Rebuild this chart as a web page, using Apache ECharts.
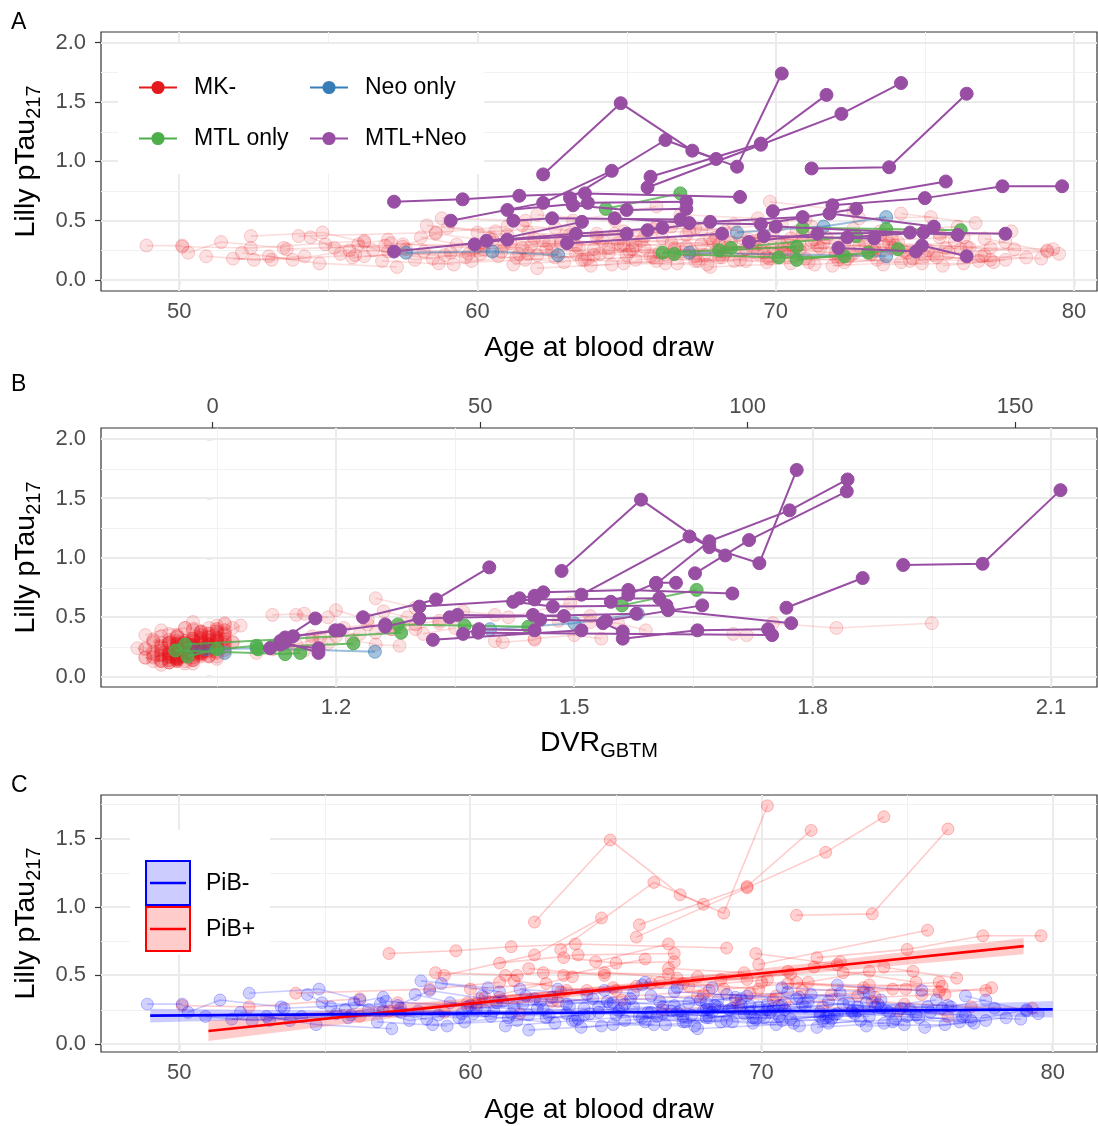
<!DOCTYPE html>
<html>
<head>
<meta charset="utf-8">
<script src="https://cdn.jsdelivr.net/npm/echarts/dist/echarts.min.js"></script>
<style>
  html, body { margin: 0; padding: 0; background: #fff; }
  #chart { width: 1098px; height: 1126px; }
</style>
</head>
<body>
<div id="chart"></div>
<script>
// ---- Axis ticks ----
const ageMajor = [50, 60, 70, 80];
const ageMinor = [55, 65, 75];
const ptauMajor = [0, 0.5, 1, 1.5, 2];
const ptauMinor = [0.25, 0.75, 1.25, 1.75];
const ptauMajorC = [0, 0.5, 1, 1.5];
const dvrMajor = [1.2, 1.5, 1.8, 2.1];
const dvrMinor = [1.05, 1.35, 1.65, 1.95];
const centiloidMajor = [0, 50, 100, 150];

// ---- Participants: each visit is [age at blood draw, Lilly pTau217, DVR (GBTM)] ----
// MK- participants, amyloid (PiB) negative
const mkNegPibNeg = [
  [[48.9,0.29,0.97],[50.1,0.29,0.99]],
  [[50.3,0.23,1.01],[51.4,0.32,1.02],[53.5,0.27,1.00]],
  [[50.9,0.20,0.98],[52.5,0.17,1.00],[54.2,0.20,1.03]],
  [[51.8,0.18,1.02],[53.1,0.17,1.04],[55.9,0.21,1.03]],
  [[52.1,0.23,0.96],[53.8,0.17,0.99],[55.7,0.25,1.00]],
  [[52.4,0.37,1.03],[54.8,0.40,1.05],[56.2,0.32,1.06]],
  [[53.0,0.20,1.01],[54.7,0.14,1.00],[57.3,0.11,1.02]],
  [[54.4,0.36,0.99],[55.2,0.27,1.01],[57.0,0.34,1.04]],
  [[55.4,0.22,0.98],[56.5,0.25,1.00],[58.5,0.18,1.01]],
  [[56.0,0.30,1.04],[57.9,0.17,1.05],[59.7,0.22,1.06]],
  [[57.5,0.28,1.00],[58.6,0.39,1.02],[61.1,0.31,1.03]],
  [[58.1,0.36,1.05],[60.2,0.26,1.04],[61.8,0.29,1.07]],
  [[58.3,0.46,1.02],[60.6,0.41,1.04]],
  [[58.9,0.21,0.97],[61.3,0.19,0.99],[62.9,0.15,1.00]],
  [[59.3,0.30,1.02],[61.5,0.27,1.01],[64.2,0.33,1.04]],
  [[59.8,0.16,0.99],[62.0,0.21,1.01],[63.7,0.18,1.03]],
  [[60.4,0.35,1.03],[62.4,0.31,1.05],[64.8,0.29,1.06]],
  [[60.8,0.24,0.96],[63.3,0.22,0.98],[65.2,0.26,1.00]],
  [[61.2,0.13,1.00],[63.6,0.17,1.01],[66.3,0.14,1.02]],
  [[61.7,0.40,1.05],[64.0,0.36,1.06],[65.9,0.43,1.08]],
  [[62.3,0.26,1.01],[64.4,0.23,1.00],[66.6,0.27,1.02]],
  [[62.6,0.19,0.98],[65.1,0.24,1.00],[67.3,0.20,1.01]],
  [[63.3,0.29,1.03],[65.5,0.33,1.04],[68.1,0.30,1.05]],
  [[63.8,0.12,0.99],[66.0,0.16,1.00],[68.2,0.19,1.02]],
  [[64.1,0.22,1.02],[66.4,0.20,1.03],[68.9,0.25,1.04]],
  [[64.7,0.31,0.97],[67.0,0.28,0.99],[69.1,0.34,1.00]],
  [[65.3,0.17,1.01],[67.6,0.21,1.03],[69.8,0.18,1.04]],
  [[65.6,0.27,1.04],[68.0,0.24,1.05],[70.2,0.29,1.07]],
  [[66.2,0.35,1.00],[68.5,0.32,1.02],[70.9,0.38,1.03]],
  [[66.7,0.14,0.98],[68.8,0.17,0.99],[71.1,0.15,1.00]],
  [[67.2,0.24,1.02],[69.4,0.22,1.03],[71.5,0.27,1.05]],
  [[67.5,0.30,1.05],[69.9,0.27,1.06],[72.3,0.31,1.06]],
  [[68.1,0.19,0.99],[70.3,0.23,1.00],[72.5,0.21,1.02]],
  [[68.4,0.28,1.01],[70.8,0.25,1.02],[73.0,0.30,1.04]],
  [[69.0,0.16,0.96],[71.3,0.13,0.98],[73.4,0.17,0.99]],
  [[69.3,0.33,1.03],[71.7,0.36,1.04],[74.1,0.32,1.05]],
  [[70.0,0.21,1.00],[72.2,0.19,1.02],[74.4,0.23,1.03]],
  [[70.4,0.26,1.04],[72.8,0.29,1.05],[75.1,0.25,1.06]],
  [[71.0,0.18,0.98],[73.2,0.22,1.00],[75.4,0.19,1.01]],
  [[71.6,0.31,1.02],[73.9,0.27,1.03],[76.0,0.32,1.05]],
  [[72.3,0.15,1.00],[74.6,0.18,1.01],[76.8,0.16,1.02]],
  [[73.1,0.24,1.03],[75.3,0.21,1.04],[77.3,0.15,1.05]],
  [[74.0,0.29,0.99],[76.2,0.26,1.01],[77.7,0.32,1.02]],
  [[75.0,0.20,1.01],[77.2,0.17,1.03],[79.1,0.25,1.04]],
  [[76.5,0.27,1.02],[79.1,0.24,1.03]],
  [[59.0,0.44,1.06],[61.0,0.38,1.05]],
  [[57.0,0.24,0.95],[59.6,0.19,0.97]],
  [[63.0,0.40,1.02],[65.6,0.37,1.03]],
  [[66.0,0.45,1.06],[68.3,0.41,1.07]],
  [[70.7,0.41,1.01],[73.5,0.38,1.03]],
  [[75.6,0.12,0.99],[77.7,0.17,1.00]],
  [[62.0,0.10,0.98],[64.5,0.13,1.00]],
  [[67.8,0.11,1.01],[70.5,0.14,1.02]],
  [[72.6,0.43,1.05],[75.5,0.39,1.06]],
  [[77.0,0.35,1.03],[79.5,0.22,1.04]],
  [[54.9,0.30,0.97],[57.6,0.26,0.98],[60.1,0.22,1.00]],
  [[61.9,0.35,0.96],[64.6,0.39,0.98],[67.1,0.41,1.01]],
  [[65.0,0.21,0.99],[67.4,0.16,1.00],[69.6,0.23,1.01]],
  [[69.6,0.28,1.00],[72.0,0.23,1.01],[74.8,0.26,1.02]],
  [[73.6,0.13,0.97],[76.3,0.14,0.99],[78.4,0.19,1.00]],
  [[55.8,0.19,1.00],[58.2,0.24,1.02],[60.7,0.20,1.03]],
  [[57.1,0.31,1.03],[59.9,0.27,1.04],[62.5,0.25,1.05]],
  [[58.7,0.14,0.99],[61.6,0.17,1.00],[63.9,0.21,1.02]],
  [[60.0,0.28,0.98],[62.2,0.33,1.00],[64.9,0.30,1.01]],
  [[61.4,0.22,1.04],[63.9,0.26,1.05],[66.1,0.23,1.06]],
  [[62.8,0.34,1.00],[65.3,0.29,1.02],[67.9,0.32,1.03]],
  [[63.5,0.17,0.97],[65.8,0.20,0.99],[68.6,0.16,1.00]],
  [[64.4,0.27,1.01],[66.9,0.24,1.02],[69.3,0.28,1.04]],
  [[65.9,0.19,1.03],[68.3,0.23,1.04],[70.6,0.20,1.05]],
  [[66.5,0.31,0.99],[69.0,0.26,1.00],[71.4,0.29,1.01]],
  [[67.3,0.16,1.02],[69.7,0.19,1.03],[72.1,0.17,1.04]],
  [[68.2,0.25,0.98],[70.6,0.28,0.99],[73.3,0.24,1.01]],
  [[68.8,0.36,1.04],[71.2,0.33,1.05],[73.7,0.37,1.06]],
  [[69.7,0.15,1.00],[72.4,0.18,1.01],[74.9,0.14,1.02]],
  [[70.2,0.25,1.02],[72.6,0.22,1.03],[75.7,0.27,1.04]],
  [[71.3,0.34,0.98],[73.6,0.30,1.00],[76.4,0.28,1.01]],
  [[72.0,0.20,1.03],[74.3,0.24,1.04],[77.0,0.21,1.05]],
  [[73.3,0.27,1.00],[75.8,0.23,1.01],[78.0,0.26,1.02]],
  [[74.5,0.16,0.97],[76.9,0.20,0.99],[78.9,0.18,1.00]],
  [[60.9,0.30,1.01],[63.4,0.27,1.02]],
  [[64.9,0.14,1.00],[67.7,0.13,1.01]],
  [[67.0,0.38,1.05],[69.5,0.35,1.06]],
  [[71.9,0.12,0.99],[74.2,0.15,1.00]],
  [[56.8,0.16,0.96],[59.2,0.13,0.98]],
  [[53.6,0.26,1.02],[56.9,0.29,1.03]]
];

// MK- participants, amyloid (PiB) positive
const mkNegPibPos = [
  [[50.1,0.28,1.13],[52.4,0.27,1.15],[56.2,0.33,1.18]],
  [[54.0,0.37,1.25],[58.6,0.40,1.30],[61.0,0.45,1.33]],
  [[57.5,0.30,1.40],[60.2,0.29,1.41],[62.8,0.31,1.45]],
  [[61.5,0.46,1.52],[64.0,0.39,1.59],[66.5,0.45,1.555]],
  [[63.2,0.50,1.417],[66.0,0.62,1.495]],
  [[65.2,0.32,1.45],[67.8,0.35,1.50],[70.4,0.32,1.534]],
  [[68.0,0.36,1.70],[70.5,0.35,1.717]],
  [[69.8,0.66,1.25],[72.6,0.58,1.30]],
  [[71.2,0.45,1.75],[73.5,0.41,1.83],[76.1,0.45,1.95]],
  [[72.8,0.52,1.12],[75.2,0.53,1.16]],
  [[74.2,0.56,1.20],[76.7,0.48,1.24]],
  [[56.2,0.20,1.10],[59.1,0.23,1.12],[61.7,0.22,1.16]],
  [[66.6,0.25,1.14],[69.2,0.28,1.19]],
  [[73.8,0.31,1.22],[77.2,0.27,1.25],[79.3,0.26,1.28]],
  [[60.5,0.34,1.17],[63.1,0.38,1.20]],
  [[67.5,0.42,1.28],[70.2,0.47,1.33]],
  [[62.0,0.55,1.26],[64.6,0.50,1.29]],
  [[75.5,0.36,1.31],[77.9,0.41,1.35]],
  [[58.8,0.52,1.15],[61.6,0.50,1.19]],
  [[64.9,0.41,1.21],[67.3,0.44,1.24],[69.9,0.40,1.27]],
  [[66.8,0.55,1.36],[69.4,0.52,1.40]],
  [[70.8,0.30,1.17],[73.9,0.34,1.20],[76.3,0.36,1.23]],
  [[68.6,0.47,1.48],[71.0,0.51,1.52]],
  [[60.0,0.40,1.27],[62.6,0.44,1.30]]
];

// MTL only
const mtlOnlyPibNeg = [
  [[66.2,0.23,1.102],[68.1,0.25,1.119],[70.7,0.28,1.222]],
  [[66.6,0.22,0.998],[70.1,0.19,1.136],[72.3,0.20,1.155]],
  [[70.7,0.17,1.013],[73.1,0.23,1.05],[74.1,0.26,1.10]],
  [[68.5,0.27,1.01],[72.7,0.37,1.282]]
];
const mtlOnlyPibPos = [
  [[64.3,0.60,1.56],[66.8,0.73,1.654]],
  [[70.9,0.44,1.278],[73.7,0.43,1.362],[76.2,0.42,1.442]]
];

// Neo only
const neoOnlyPibNeg = [
  [[57.6,0.23,1.036],[60.5,0.24,1.10],[62.7,0.21,1.249]],
  [[67.1,0.23,1.02],[73.7,0.20,1.06]]
];
const neoOnlyPibPos = [
  [[68.7,0.40,1.394],[71.6,0.45,1.50],[73.7,0.53,1.58]]
];

// MTL + Neo (all amyloid positive)
const mtlNeo = [
  [[57.2,0.66,1.431],[59.5,0.68,1.45],[61.4,0.71,1.461],[63.6,0.73,1.568],[68.8,0.70,1.699]],
  [[62.2,0.89,1.484],[64.8,1.49,1.584],[67.2,1.09,1.67],[68.7,0.955,1.733],[70.2,1.74,1.78]],
  [[63.1,0.69,1.509],[66.3,1.18,1.645],[68.0,1.02,1.69]],
  [[65.7,0.78,1.603],[69.5,1.14,1.67],[72.2,1.40,1.771],[74.2,1.66,1.844]],
  [[59.1,0.50,1.234],[62.2,0.65,1.326],[64.5,0.92,1.393]],
  [[65.8,0.87,1.652],[69.5,1.15,1.72],[71.7,1.56,1.843]],
  [[71.2,0.94,1.914],[73.8,0.95,2.014],[76.4,1.57,2.112]],
  [[69.9,0.58,1.767],[75.7,0.83,1.863]],
  [[71.9,0.63,1.546],[75.0,0.69,1.568],[77.6,0.79,1.603],[79.6,0.79,1.628]],
  [[57.2,0.24,1.117],[61.0,0.34,1.146],[65.0,0.39,1.199]],
  [[59.9,0.30,1.13],[63.5,0.49,1.174]],
  [[60.3,0.33,1.136],[63.3,0.39,1.205],[66.2,0.44,1.262]],
  [[61.0,0.59,1.305],[63.7,0.65,1.45],[67.0,0.66,1.607]],
  [[61.2,0.50,1.343],[62.5,0.52,1.353],[66.8,0.51,1.487]],
  [[63.2,0.63,1.423],[65.0,0.59,1.473],[67.0,0.60,1.616]],
  [[64.6,0.52,1.448],[67.1,0.48,1.457],[69.5,0.47,1.54],[72.7,0.60,1.661]],
  [[65.7,0.42,1.262],[67.8,0.49,1.305],[70.9,0.53,1.578]],
  [[63.0,0.31,1.322],[68.2,0.39,1.509]],
  [[69.1,0.32,1.561],[71.4,0.39,1.655],[74.5,0.40,1.744]],
  [[69.6,0.37,1.379],[73.3,0.35,1.749]],
  [[71.8,0.56,1.618],[75.3,0.45,1.773]],
  [[72.1,0.27,1.13],[74.7,0.24,1.178]],
  [[74.9,0.29,1.136],[76.4,0.20,1.178]],
  [[72.4,0.36,1.36],[74.95,0.40,1.38],[77.7,0.39,1.45]],
  [[70.0,0.45,1.536],[76.1,0.38,1.561]]
];

// ---- Linear fits by amyloid status (estimate with 95% band) ----
const fitAgePos = [51.0, 58.0, 65.0, 72.0, 79.0];
const fitEstPos = [0.094, 0.250, 0.405, 0.560, 0.714];
const fitLoPos  = [0.020, 0.205, 0.378, 0.522, 0.655];
const fitHiPos  = [0.168, 0.295, 0.432, 0.598, 0.773];
const fitAgeNeg = [49.0, 56.5, 64.5, 72.0, 80.0];
const fitEstNeg = [0.206, 0.217, 0.229, 0.240, 0.252];
const fitLoNeg  = [0.155, 0.195, 0.217, 0.222, 0.192];
const fitHiNeg  = [0.257, 0.239, 0.241, 0.258, 0.312];

// ---- Drawing ----
const FONT = '"Liberation Sans", Arial, Helvetica, sans-serif';
const TICK_COLOR = '#4D4D4D';
const chart = echarts.init(document.getElementById('chart'), null, { renderer: 'canvas' });

const groupStyle = {
  'MK-':      { fill: 'rgba(228,26,28,0.13)', stroke: 'rgba(228,26,28,0.2)', line: 'rgba(228,26,28,0.15)', lw: 1.6, z: 3, solid: '#E41A1C' },
  'Neo only': { fill: 'rgba(55,126,184,0.45)', stroke: 'rgba(55,126,184,0.6)', line: 'rgba(55,126,184,0.5)', lw: 2, z: 4, solid: '#377EB8' },
  'MTL only': { fill: 'rgba(77,175,74,0.8)', stroke: 'rgba(77,175,74,0.9)', line: 'rgba(77,175,74,0.8)', lw: 2, z: 5, solid: '#4DAF4A' },
  'MTL+Neo':  { fill: '#984EA3', stroke: '#984EA3', line: '#984EA3', lw: 2, z: 6, solid: '#984EA3' }
};
const pibStyle = {
  'PiB+': { fill: 'rgba(255,0,0,0.18)', stroke: 'rgba(255,0,0,0.25)', line: 'rgba(255,0,0,0.2)', lw: 1.6, z: 3 },
  'PiB-': { fill: 'rgba(0,0,255,0.18)', stroke: 'rgba(0,0,255,0.25)', line: 'rgba(0,0,255,0.2)', lw: 1.6, z: 4 }
};

const groups = [
  ['MK-', mkNegPibNeg.concat(mkNegPibPos)],
  ['Neo only', neoOnlyPibNeg.concat(neoOnlyPibPos)],
  ['MTL only', mtlOnlyPibNeg.concat(mtlOnlyPibPos)],
  ['MTL+Neo', mtlNeo]
];
const pibGroups = [
  ['PiB+', mkNegPibPos.concat(mtlOnlyPibPos, neoOnlyPibPos, mtlNeo)],
  ['PiB-', mkNegPibNeg.concat(mtlOnlyPibNeg, neoOnlyPibNeg)]
];

function subjectSeries(subject, name, st, xCol, xAxisIndex, yAxisIndex, size) {
  const pts = subject.map(v => [v[xCol], v[1]]).sort((a, b) => a[0] - b[0]);
  return {
    type: 'line', name, xAxisIndex, yAxisIndex, data: pts,
    symbol: 'circle', symbolSize: size, showSymbol: true,
    lineStyle: { color: st.line, width: st.lw },
    itemStyle: { color: st.fill, borderColor: st.stroke, borderWidth: 1 },
    emphasis: { disabled: true }, silent: true, animation: false, z: st.z
  };
}

// Major/minor panel grid drawn through the axis scales
function gridLineSeries(xAxisIndex, yAxisIndex, xMaj, xMin, yMaj, yMin) {
  const data = [];
  xMaj.forEach(v => data.push([v, 0, 1]));
  xMin.forEach(v => data.push([v, 0, 0]));
  yMaj.forEach(v => data.push([v, 1, 1]));
  yMin.forEach(v => data.push([v, 1, 0]));
  return {
    type: 'custom', xAxisIndex, yAxisIndex, data, silent: true, animation: false, z: 1,
    renderItem(params, api) {
      const v = api.value(0), horiz = api.value(1), major = api.value(2);
      const cs = params.coordSys;
      const p = api.coord([v, v]);
      const off = major ? 0 : 0.5;
      const shape = horiz
        ? { x1: cs.x, y1: Math.round(p[1]) + off, x2: cs.x + cs.width, y2: Math.round(p[1]) + off }
        : { x1: Math.round(p[0]) + off, y1: cs.y, x2: Math.round(p[0]) + off, y2: cs.y + cs.height };
      return { type: 'line', shape, style: { stroke: major ? '#EBEBEB' : '#F1F1F1', lineWidth: major ? 2 : 1 } };
    }
  };
}

function ribbonSeries(ages, lo, hi, fill) {
  return {
    type: 'custom', xAxisIndex: 3, yAxisIndex: 2, silent: true, animation: false, z: 7,
    data: ages.map((a, i) => [a, lo[i], hi[i]]),
    renderItem(params, api) {
      if (params.dataIndex !== 0) return null;
      const pts = [];
      for (let i = 0; i < ages.length; i++) pts.push(api.coord([ages[i], hi[i]]));
      for (let i = ages.length - 1; i >= 0; i--) pts.push(api.coord([ages[i], lo[i]]));
      return { type: 'polygon', shape: { points: pts }, style: { fill } };
    }
  };
}

function fitSeries(ages, est, color) {
  return {
    type: 'line', xAxisIndex: 3, yAxisIndex: 2, data: ages.map((a, i) => [a, est[i]]),
    showSymbol: false, symbol: 'none', lineStyle: { color, width: 2.6 },
    silent: true, animation: false, z: 8
  };
}

const series = [];
series.push(gridLineSeries(0, 0, ageMajor, ageMinor, ptauMajor, ptauMinor));
series.push(gridLineSeries(1, 1, dvrMajor, dvrMinor, ptauMajor, ptauMinor));
series.push(gridLineSeries(3, 2, ageMajor, ageMinor, ptauMajorC, ptauMinor));

// Panel A (age) and panel B (DVR), coloured by tau group
groups.forEach(([name, subjects]) => {
  const st = groupStyle[name];
  subjects.forEach(s => {
    series.push(subjectSeries(s, name, st, 0, 0, 0, 13));
    series.push(subjectSeries(s, name, st, 2, 1, 1, 13));
  });
});
// Panel C (age), coloured by amyloid status
pibGroups.forEach(([name, subjects]) => {
  const st = pibStyle[name];
  subjects.forEach(s => series.push(subjectSeries(s, name, st, 0, 3, 2, 12)));
});
series.push(ribbonSeries(fitAgePos, fitLoPos, fitHiPos, 'rgba(255,0,0,0.2)'));
series.push(ribbonSeries(fitAgeNeg, fitLoNeg, fitHiNeg, 'rgba(0,0,255,0.2)'));
series.push(fitSeries(fitAgePos, fitEstPos, '#FF0000'));
series.push(fitSeries(fitAgeNeg, fitEstNeg, '#0000FF'));

const tickLabel = { fontSize: 22, color: TICK_COLOR, fontFamily: FONT };
const axisTick = { show: true, length: 6, lineStyle: { color: '#333', width: 1.2 } };
const fmt1 = v => Number(v).toFixed(1);

function baseAxis(extra) {
  return Object.assign({
    type: 'value', axisLine: { show: false }, splitLine: { show: false },
    minorSplitLine: { show: false }
  }, extra);
}

const TITLE_SIZE = 28.5;
const SUB_SIZE = 20;
const richTitle = {
  m: { fontSize: TITLE_SIZE, fontFamily: FONT, color: '#000', verticalAlign: 'middle' },
  s: { fontSize: SUB_SIZE, fontFamily: FONT, color: '#000', verticalAlign: 'middle', padding: [15, 0, 0, 0] }
};
const yName = {
  name: '{m|Lilly pTau}{s|217}', nameLocation: 'middle', nameRotate: 90, nameGap: 57,
  nameTextStyle: { color: '#000', fontFamily: FONT, fontSize: TITLE_SIZE, rich: richTitle }
};
const ageName = {
  name: 'Age at blood draw', nameLocation: 'middle',
  nameTextStyle: { color: '#000', fontFamily: FONT, fontSize: TITLE_SIZE }
};
const letterStyle = { fontSize: 23, fontWeight: 'normal', color: '#000', fontFamily: FONT };

const option = {
  backgroundColor: '#fff',
  animation: false,
  title: [
    { text: 'A', left: 11, top: 11, padding: 0, textStyle: letterStyle },
    { text: 'B', left: 11, top: 373, padding: 0, textStyle: letterStyle },
    { text: 'C', left: 11, top: 774, padding: 0, textStyle: letterStyle }
  ],
  grid: [
    { left: 101, top: 32, width: 996, height: 259, show: true, borderColor: '#333', borderWidth: 1.2 },
    { left: 101, top: 428, width: 996, height: 259, show: true, borderColor: '#333', borderWidth: 1.2 },
    { left: 101, top: 795, width: 996, height: 259, show: true, borderColor: '#333', borderWidth: 1.2 }
  ],
  xAxis: [
    baseAxis(Object.assign({ gridIndex: 0, min: 47.375, max: 80.77, nameGap: 43,
      axisTick: Object.assign({ customValues: ageMajor }, axisTick),
      axisLabel: Object.assign({ customValues: ageMajor, margin: 10 }, tickLabel) }, ageName)),
    baseAxis({ gridIndex: 1, min: 0.9042, max: 2.158, nameLocation: 'middle', nameGap: 39,
      name: '{m|DVR}{s|GBTM}',
      nameTextStyle: { color: '#000', fontFamily: FONT, fontSize: TITLE_SIZE, rich: richTitle },
      axisTick: Object.assign({ customValues: dvrMajor }, axisTick),
      axisLabel: Object.assign({ customValues: dvrMajor, margin: 10, formatter: fmt1 }, tickLabel) }),
    baseAxis({ gridIndex: 1, position: 'top', min: -20.88, max: 165.3,
      axisTick: Object.assign({ customValues: centiloidMajor }, axisTick),
      axisLabel: Object.assign({ customValues: centiloidMajor, margin: 10 }, tickLabel) }),
    baseAxis(Object.assign({ gridIndex: 2, min: 47.31, max: 81.52, nameGap: 44,
      axisTick: Object.assign({ customValues: ageMajor }, axisTick),
      axisLabel: Object.assign({ customValues: ageMajor, margin: 10 }, tickLabel) }, ageName))
  ],
  yAxis: [
    baseAxis(Object.assign({ gridIndex: 0, min: -0.0927, max: 2.090,
      axisTick: Object.assign({ customValues: ptauMajor }, axisTick),
      axisLabel: Object.assign({ customValues: ptauMajor, margin: 15, formatter: fmt1 }, tickLabel) }, yName)),
    baseAxis(Object.assign({ gridIndex: 1, min: -0.087, max: 2.093,
      axisTick: Object.assign({ customValues: ptauMajor }, axisTick),
      axisLabel: Object.assign({ customValues: ptauMajor, margin: 15, formatter: fmt1 }, tickLabel) }, yName)),
    baseAxis(Object.assign({ gridIndex: 2, min: -0.060, max: 1.819,
      axisTick: Object.assign({ customValues: ptauMajorC }, axisTick),
      axisLabel: Object.assign({ customValues: ptauMajorC, margin: 15, formatter: fmt1 }, tickLabel) }, yName))
  ],
  legend: [
    ['MK-', 138, 76], ['Neo only', 309, 76], ['MTL only', 138, 127], ['MTL+Neo', 309, 127]
  ].map(([name, left, top]) => ({
    left, top, padding: 0, z: 12, selectedMode: false, itemWidth: 38, itemHeight: 14,
    textStyle: { fontSize: 23, fontFamily: FONT, color: '#000', padding: [0, 0, 0, 12] },
    data: [{
      name,
      itemStyle: { color: groupStyle[name].solid, borderColor: groupStyle[name].solid, opacity: 1 },
      lineStyle: { color: groupStyle[name].solid, opacity: 1, width: 2 }
    }]
  })),
  graphic: [
    // legend panels
    { type: 'rect', z: 10, shape: { x: 118, y: 44, width: 366, height: 130 }, style: { fill: '#fff' }, silent: true },
    { type: 'rect', z: 10, shape: { x: 130, y: 830, width: 140, height: 125 }, style: { fill: '#fff' }, silent: true },
    { type: 'rect', z: 11, shape: { x: 146, y: 861, width: 44, height: 44 }, style: { fill: 'rgba(0,0,255,0.2)', stroke: '#0000FF', lineWidth: 2 }, silent: true },
    { type: 'line', z: 12, shape: { x1: 150, y1: 883, x2: 186, y2: 883 }, style: { stroke: '#0000FF', lineWidth: 2.5 }, silent: true },
    { type: 'rect', z: 11, shape: { x: 146, y: 907, width: 44, height: 44 }, style: { fill: 'rgba(255,0,0,0.2)', stroke: '#FF0000', lineWidth: 2 }, silent: true },
    { type: 'line', z: 12, shape: { x1: 150, y1: 929, x2: 186, y2: 929 }, style: { stroke: '#FF0000', lineWidth: 2.5 }, silent: true },
    { type: 'text', z: 12, style: { text: 'PiB-', x: 206, y: 884, fill: '#000', font: '23px ' + FONT, verticalAlign: 'middle' }, silent: true },
    { type: 'text', z: 12, style: { text: 'PiB+', x: 206, y: 930, fill: '#000', font: '23px ' + FONT, verticalAlign: 'middle' }, silent: true }
  ],
  series
};

chart.setOption(option);
</script>
</body>
</html>
